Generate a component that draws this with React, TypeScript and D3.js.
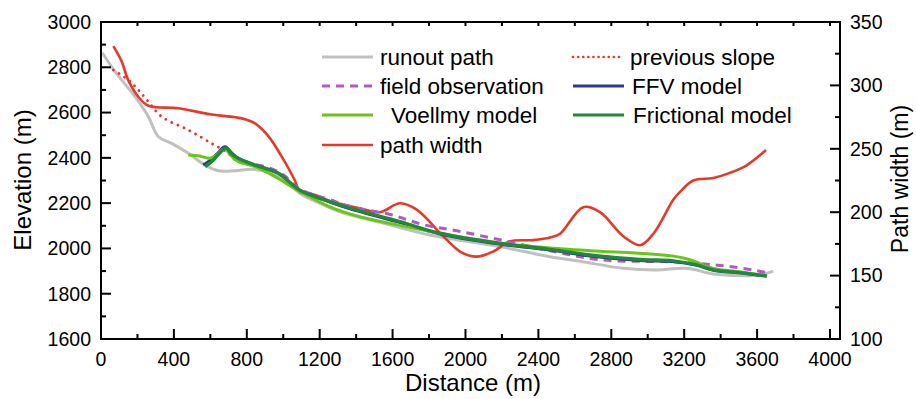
import React from 'react';
import * as d3 from 'd3';

// distance (m), elevation (m)
const runoutPath: [number, number][] = [
  [7, 2864], [77, 2781], [187, 2670], [260, 2582], [315, 2493], [388, 2464], [479, 2420],
  [571, 2368], [644, 2343], [735, 2343], [845, 2349], [982, 2317], [1092, 2243], [1202, 2199],
  [1311, 2162], [1421, 2137], [1531, 2115], [1805, 2059], [2189, 2008], [2464, 1963],
  [2628, 1943], [2866, 1912], [3049, 1905], [3214, 1912], [3360, 1887], [3506, 1880],
  [3616, 1883], [3689, 1900],
];
const previousSlope: [number, number][] = [
  [68, 2788], [150, 2744], [205, 2700], [260, 2648], [333, 2582], [479, 2523], [607, 2464],
  [699, 2420], [735, 2390],
];
const fieldObservation: [number, number][] = [
  [850, 2370], [927, 2355], [1000, 2325], [1092, 2262], [1256, 2215], [1366, 2185],
  [1586, 2150], [1769, 2105], [1952, 2078], [2189, 2038], [2464, 1990], [2738, 1950],
  [3141, 1940], [3396, 1925], [3578, 1905], [3650, 1893],
];
const ffvModel: [number, number][] = [
  [561, 2368], [600, 2390], [640, 2420], [680, 2449], [720, 2420], [754, 2398], [845, 2368],
  [971, 2333], [1092, 2256], [1256, 2205], [1366, 2175], [1641, 2114], [1860, 2064],
  [2189, 2019], [2464, 1993], [2683, 1967], [2958, 1947], [3141, 1942], [3269, 1925],
  [3360, 1904], [3506, 1892], [3653, 1878],
];
const voellmyModel: [number, number][] = [
  [479, 2413], [540, 2408], [598, 2398], [630, 2410], [680, 2440], [710, 2412], [754, 2383],
  [845, 2361], [955, 2317], [1092, 2251], [1256, 2184], [1421, 2140], [1677, 2096],
  [1860, 2067], [2189, 2024], [2464, 2002], [2683, 1990], [3000, 1976], [3141, 1966],
  [3232, 1950], [3360, 1912], [3506, 1897], [3653, 1878],
];
const frictionalModel: [number, number][] = [
  [571, 2361], [610, 2385], [650, 2420], [685, 2443], [720, 2415], [760, 2395], [845, 2368],
  [971, 2333], [1092, 2257], [1256, 2207], [1366, 2178], [1641, 2118], [1860, 2067],
  [2189, 2022], [2464, 1996], [2683, 1971], [2958, 1951], [3141, 1945], [3269, 1927],
  [3360, 1905], [3506, 1893], [3653, 1878],
];
// distance (m), path width (m)
const pathWidth: [number, number][] = [
  [68, 331], [113, 319], [150, 304], [205, 291], [260, 284], [424, 282], [607, 277],
  [772, 274], [845, 270], [918, 260], [991, 244], [1064, 225], [1092, 216], [1165, 214],
  [1275, 208], [1421, 203], [1531, 200], [1641, 207], [1732, 202], [1878, 181], [1970, 169],
  [2061, 165], [2153, 169], [2244, 177], [2372, 178], [2464, 180], [2519, 183], [2646, 204],
  [2738, 200], [2866, 181], [2958, 174], [3031, 183], [3141, 210], [3177, 216], [3250, 225],
  [3360, 227], [3451, 231], [3543, 237], [3649, 249],
];

const xTicks = [0, 400, 800, 1200, 1600, 2000, 2400, 2800, 3200, 3600, 4000];
const yTicks = [1600, 1800, 2000, 2200, 2400, 2600, 2800, 3000];
const y2Ticks = [100, 150, 200, 250, 300, 350];

const W = 916;
const H = 399;
const M = { left: 101, right: 840, top: 22, bottom: 339 };
const FONT = '"Liberation Sans", Arial, sans-serif';

export default function App() {
  const x = d3.scaleLinear().domain([0, 4055]).range([M.left, M.right]);
  const y = d3.scaleLinear().domain([1600, 3000]).range([M.bottom, M.top]);
  const y2 = d3.scaleLinear().domain([100, 350]).range([M.bottom, M.top]);

  const line = d3.line<[number, number]>()
    .x(d => x(d[0]))
    .y(d => y(d[1]))
    .curve(d3.curveCatmullRom.alpha(0.5));
  const line2 = d3.line<[number, number]>()
    .x(d => x(d[0]))
    .y(d => y2(d[1]))
    .curve(d3.curveCatmullRom.alpha(0.5));

  const series = [
    { name: 'runout path', d: line(runoutPath), color: '#c0c0c0', w: 3, dash: undefined },
    { name: 'previous slope', d: line(previousSlope), color: '#e8382a', w: 2.8, dash: '0.1,6.5' },
    { name: 'path width', d: line2(pathWidth), color: '#e8382a', w: 2.6, dash: undefined },
    { name: 'field observation', d: line(fieldObservation), color: '#b556cc', w: 3, dash: '8,6' },
    { name: 'FFV model', d: line(ffvModel), color: '#2c3a8e', w: 3, dash: undefined },
    { name: 'Voellmy model', d: line(voellmyModel), color: '#6cc417', w: 3, dash: undefined },
    { name: 'Frictional model', d: line(frictionalModel), color: '#1f8a3c', w: 3.4, dash: undefined },
  ];

  const xMinor = d3.range(0, 4001, 200);
  const yMinor = d3.range(1600, 3001, 100);
  const y2Minor = d3.range(100, 351, 25);

  const legend = [
    { label: 'runout path', color: '#c0c0c0', dash: undefined, w: 3, lx: 322, tx: 380, row: 0 },
    { label: 'previous slope', color: '#e8382a', dash: '0.1,5', w: 2.6, lx: 573, tx: 630, row: 0 },
    { label: 'field observation', color: '#b556cc', dash: '8,6', w: 3, lx: 322, tx: 380, row: 1 },
    { label: 'FFV model', color: '#2c3a8e', dash: undefined, w: 3, lx: 573, tx: 632, row: 1 },
    { label: 'Voellmy model', color: '#6cc417', dash: undefined, w: 3, lx: 322, tx: 391, row: 2 },
    { label: 'Frictional model', color: '#1f8a3c', dash: undefined, w: 3, lx: 573, tx: 633, row: 2 },
    { label: 'path width', color: '#e8382a', dash: undefined, w: 2.6, lx: 322, tx: 380, row: 3 },
  ];
  const rowY = [57, 86, 115, 145];

  return (
    <svg width={W} height={H} style={{ position: 'absolute', left: 0, top: 0, background: '#fff' }}
      fontFamily={FONT}>
      {/* data */}
      {series.map(s => (
        <path key={s.name} d={s.d || ''} fill="none" stroke={s.color} strokeWidth={s.w}
          strokeDasharray={s.dash} strokeLinecap={s.dash && s.dash.startsWith('0.1') ? 'round' : 'butt'}
          strokeLinejoin="round" />
      ))}

      {/* frame */}
      <rect x={M.left} y={M.top} width={M.right - M.left} height={M.bottom - M.top}
        fill="none" stroke="#000" strokeWidth={2} />

      {/* bottom + top ticks */}
      {xMinor.map(v => {
        const major = v % 400 === 0;
        return (
          <g key={'x' + v} stroke="#000" strokeWidth={2}>
            <line x1={x(v)} x2={x(v)} y1={M.bottom} y2={M.bottom - (major ? 10 : 5)} />
            <line x1={x(v)} x2={x(v)} y1={M.top} y2={M.top + 4} />
          </g>
        );
      })}
      {xTicks.map(v => (
        <text key={'xl' + v} x={x(v)} y={366} textAnchor="middle" fontSize={19.5}>{v}</text>
      ))}

      {/* left ticks */}
      {yMinor.map(v => (
        <line key={'y' + v} x1={M.left} x2={M.left + (v % 200 === 0 ? 10 : 5)} y1={y(v)} y2={y(v)}
          stroke="#000" strokeWidth={2} />
      ))}
      {yTicks.map(v => (
        <text key={'yl' + v} x={91} y={y(v)} dy="0.35em" textAnchor="end" fontSize={19.5}>{v}</text>
      ))}

      {/* right ticks */}
      {y2Minor.map(v => (
        <line key={'y2' + v} x1={M.right} x2={M.right - (v % 50 === 0 ? 10 : 5)} y1={y2(v)} y2={y2(v)}
          stroke="#000" strokeWidth={2} />
      ))}
      {y2Ticks.map(v => (
        <text key={'y2l' + v} x={850} y={y2(v)} dy="0.35em" textAnchor="start" fontSize={19.5}>{v}</text>
      ))}

      {/* axis titles */}
      <text x={473} y={391} textAnchor="middle" fontSize={24}>Distance (m)</text>
      <text transform="translate(31,180) rotate(-90)" textAnchor="middle" fontSize={24}>Elevation (m)</text>
      <text transform="translate(908,179) rotate(-90)" textAnchor="middle" fontSize={23}>Path width (m)</text>

      {/* legend */}
      {legend.map(l => (
        <g key={l.label}>
          <line x1={l.lx} x2={l.lx + 51} y1={rowY[l.row]} y2={rowY[l.row]} stroke={l.color}
            strokeWidth={l.w} strokeDasharray={l.dash}
            strokeLinecap={l.dash && l.dash.startsWith('0.1') ? 'round' : 'butt'} />
          <text x={l.tx} y={rowY[l.row]} dy="0.35em" fontSize={22.5}>{l.label}</text>
        </g>
      ))}
    </svg>
  );
}
